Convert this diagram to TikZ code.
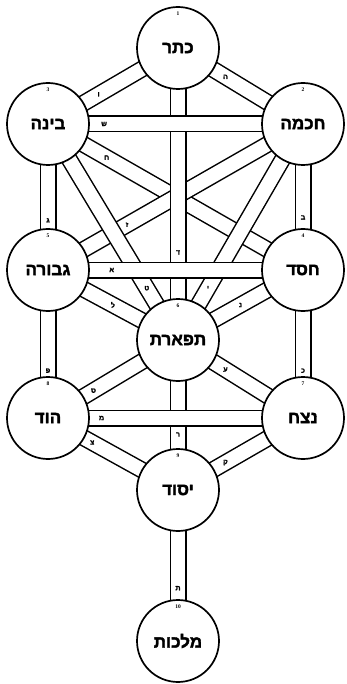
\documentclass[tikz,border=0pt]{standalone}
\usepackage{fontspec}
\setmainfont{Liberation Serif}
\newfontfamily\heb[Script=Hebrew,BoldFont={Liberation Sans Bold},BoldFeatures={FakeBold=2}]{Liberation Sans}
\TeXXeTstate=1
\usetikzlibrary{backgrounds}
\newcommand{\HebTxt}[1]{\beginR #1\endR}
\begin{document}
\begin{tikzpicture}[x=1pt,y=-1pt,
  sefira/.style={circle, draw=black, line width=1.7pt, fill=white, minimum size=82pt, inner sep=0pt, font=\heb\bfseries\fontsize{17}{17}\selectfont},
  strip/.style={line width=1.5pt, draw=black, double=white, double distance=14pt},
  snum/.style={font=\bfseries\fontsize{5.5}{5.5}\selectfont, inner sep=0pt},
  plet/.style={font=\heb\bfseries\fontsize{7}{7}\selectfont, inner sep=0pt}]
\useasboundingbox (0,0) rectangle (346,684);
% sefirot
\node[sefira] (keter)   at (178,48)  {\HebTxt{כתר}};
\node[sefira] (chokmah) at (303,124) {\HebTxt{חכמה}};
\node[sefira] (binah)   at (48,124)  {\HebTxt{בינה}};
\node[sefira] (chesed)  at (303,270) {\HebTxt{חסד}};
\node[sefira] (gevurah) at (48,270)  {\HebTxt{גבורה}};
\node[sefira] (tiferet) at (178,340) {\HebTxt{תפארת}};
\node[sefira] (netzach) at (303,418) {\HebTxt{נצח}};
\node[sefira] (hod)     at (48,418)  {\HebTxt{הוד}};
\node[sefira] (yesod)   at (178,490) {\HebTxt{יסוד}};
\node[sefira] (malkuth) at (178,641) {\HebTxt{מלכות}};
% numbers
\node[snum] (n1)  at ([yshift=-8pt]keter.north)   {1};
\node[snum] (n2)  at ([yshift=-8pt]chokmah.north) {2};
\node[snum] (n3)  at ([yshift=-8pt]binah.north)   {3};
\node[snum] (n4)  at ([yshift=-8pt]chesed.north)  {4};
\node[snum] (n5)  at ([yshift=-8pt]gevurah.north) {5};
\node[snum] (n6)  at ([yshift=-8pt]tiferet.north) {6};
\node[snum] (n7)  at ([yshift=-8pt]netzach.north) {7};
\node[snum] (n8)  at ([yshift=-8pt]hod.north)     {8};
\node[snum] (n9)  at ([yshift=-8pt]yesod.north)   {9};
\node[snum] (n10) at ([yshift=-8pt]malkuth.north) {10};
% paths
\begin{scope}[on background layer]
\draw[strip] (binah.center) -- (chesed.center);
\draw[strip] (chokmah.center) -- (gevurah.center);
\draw[strip] (binah.center) -- (tiferet.center);
\draw[strip] (chokmah.center) -- (tiferet.center);
\draw[strip] (gevurah.center) -- (tiferet.center);
\draw[strip] (chesed.center) -- (tiferet.center);
\draw[strip] (keter.center) -- (binah.center);
\draw[strip] (keter.center) -- (chokmah.center);
\draw[strip] (keter.center) -- (tiferet.center);
\draw[strip] (binah.center) -- (gevurah.center);
\draw[strip] (chokmah.center) -- (chesed.center);
\draw[strip] (gevurah.center) -- (hod.center);
\draw[strip] (chesed.center) -- (netzach.center);
\draw[strip] (tiferet.center) -- (hod.center);
\draw[strip] (tiferet.center) -- (netzach.center);
\draw[strip] (hod.center) -- (yesod.center);
\draw[strip] (netzach.center) -- (yesod.center);
\draw[strip] (tiferet.center) -- (yesod.center);
\draw[strip] (yesod.center) -- (malkuth.center);
\draw[strip] (binah.center) -- (chokmah.center);
\draw[strip] (gevurah.center) -- (chesed.center);
\draw[strip] (hod.center) -- (netzach.center);
\end{scope}
% path letters
\path (keter.center) -- (chokmah.center) node[plet, pos=0.38] (l1) {\HebTxt{ה}};
\path (binah.center) -- (keter.center) node[plet, pos=0.39] (l2) {\HebTxt{ו}};
\path (keter.center) -- (tiferet.center) node[plet, pos=0.70] (l3) {\HebTxt{ד}};
\path (binah.center) -- (chokmah.center) node[plet, pos=0.22] (l4) {\HebTxt{ש}};
\path (chokmah.center) -- (chesed.center) node[plet, pos=0.64] (l5) {\HebTxt{ב}};
\path (binah.center) -- (gevurah.center) node[plet, pos=0.66] (l6) {\HebTxt{ג}};
\path (binah.center) -- (chesed.center) node[plet, pos=0.23] (l7) {\HebTxt{ח}};
\path (chokmah.center) -- (gevurah.center) node[plet, pos=0.69] (l8) {\HebTxt{ז}};
\path (binah.center) -- (tiferet.center) node[plet, pos=0.76] (l9) {\HebTxt{ט}};
\path (chokmah.center) -- (tiferet.center) node[plet, pos=0.76] (l10) {\HebTxt{י}};
\path (gevurah.center) -- (chesed.center) node[plet, pos=0.25] (l11) {\HebTxt{א}};
\path (gevurah.center) -- (tiferet.center) node[plet, pos=0.5] (l12) {\HebTxt{ל}};
\path (chesed.center) -- (tiferet.center) node[plet, pos=0.5] (l13) {\HebTxt{נ}};
\path (chesed.center) -- (netzach.center) node[plet, pos=0.68] (l14) {\HebTxt{כ}};
\path (gevurah.center) -- (hod.center) node[plet, pos=0.68] (l15) {\HebTxt{פ}};
\path (tiferet.center) -- (hod.center) node[plet, pos=0.65] (l16) {\HebTxt{ס}};
\path (tiferet.center) -- (netzach.center) node[plet, pos=0.38] (l17) {\HebTxt{ע}};
\path (hod.center) -- (netzach.center) node[plet, pos=0.21] (l18) {\HebTxt{מ}};
\path (tiferet.center) -- (yesod.center) node[plet, pos=0.63] (l19) {\HebTxt{ר}};
\path (hod.center) -- (yesod.center) node[plet, pos=0.34] (l20) {\HebTxt{צ}};
\path (netzach.center) -- (yesod.center) node[plet, pos=0.62] (l21) {\HebTxt{ק}};
\path (yesod.center) -- (malkuth.center) node[plet, pos=0.65] (l22) {\HebTxt{ת}};
\end{tikzpicture}
\end{document}
